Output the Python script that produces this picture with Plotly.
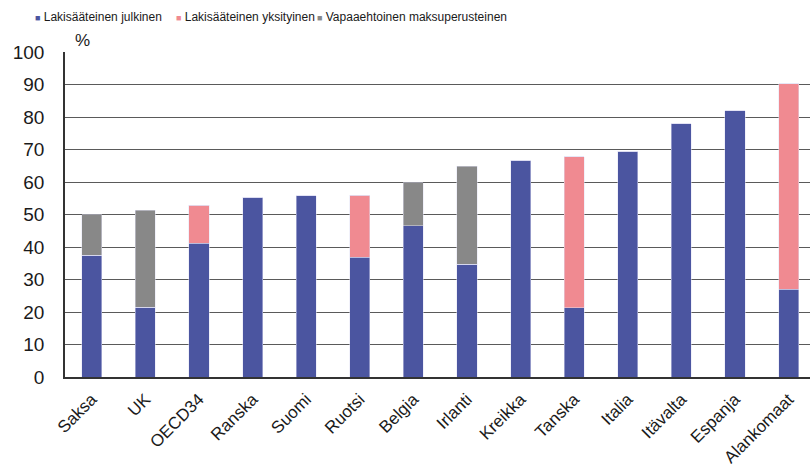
import plotly.graph_objects as go

categories = ["Saksa", "UK", "OECD34", "Ranska", "Suomi", "Ruotsi", "Belgia",
              "Irlanti", "Kreikka", "Tanska", "Italia", "Itävalta", "Espanja", "Alankomaat"]
julkinen = [37.4, 21.5, 41.2, 55.3, 55.7, 36.9, 46.6, 34.7, 66.7, 21.3, 69.5, 78.0, 82.0, 27.0]
yksityinen = [0, 0, 11.6, 0, 0, 19.0, 0, 0, 0, 46.4, 0, 0, 0, 63.3]
vapaaehtoinen = [12.6, 29.8, 0, 0, 0, 0, 13.2, 30.2, 0, 0, 0, 0, 0, 0]
y_ticks = [0, 10, 20, 30, 40, 50, 60, 70, 80, 90, 100]

names = ["Lakisääteinen julkinen", "Lakisääteinen yksityinen", "Vapaaehtoinen maksuperusteinen"]
colors = ["#4b55a0", "#f08a91", "#888888"]
series = [julkinen, yksityinen, vapaaehtoinen]

fig = go.Figure()
for name, vals, col in zip(names, series, colors):
    fig.add_trace(go.Bar(
        x=categories, y=vals, name=name, showlegend=False,
        marker=dict(color=col, line=dict(color="rgba(225,225,245,0.8)", width=0.6)),
    ))
# legend entries: coloured square glyph placed right before the label, as in the original
for name, col in zip(names, colors):
    fig.add_trace(go.Scatter(
        x=[None], y=[None], mode="markers",
        name=f"<span style='color:{col};font-size:9px'>■</span> {name}",
        marker=dict(symbol="square", size=6, color="rgba(0,0,0,0)"),
    ))
# invisible spacer entry so the last legend label is not clipped
fig.add_trace(go.Scatter(
    x=[None], y=[None], mode="markers", name=" ",
    marker=dict(symbol="square", size=6, color="rgba(0,0,0,0)"),
))

fig.update_layout(
    width=810, height=469,
    margin=dict(l=65, r=0, t=52, b=92, autoexpand=False),
    plot_bgcolor="white", paper_bgcolor="white",
    barmode="stack", bargap=0.625,
    showlegend=True,
    legend=dict(
        orientation="h", x=-0.094, xanchor="left", y=1.109, yanchor="middle",
        font=dict(family="Liberation Sans, Arial, sans-serif", size=12, color="#1a1a1a"),
        entrywidth=96, itemclick=False, tracegroupgap=0, traceorder="normal",
        bgcolor="rgba(0,0,0,0)",
    ),
    xaxis=dict(
        range=[-0.5, 13.4], tickangle=-45, showgrid=False, automargin=False,
        showline=True, linecolor="#333333", linewidth=1.5, ticklabelstandoff=4,
        ticks="", tickfont=dict(family="Liberation Sans, Arial, sans-serif", size=17, color="#1a1a1a"),
    ),
    yaxis=dict(
        range=[0, 100], tickvals=y_ticks, showgrid=True, gridcolor="#5a5a5a", gridwidth=1.3,
        showline=True, linecolor="#333333", linewidth=1.5, ticks="", ticklabelstandoff=15,
        automargin=False,
        tickfont=dict(family="Liberation Sans, Arial, sans-serif", size=19, color="#1a1a1a"),
        zeroline=False,
    ),
    annotations=[dict(
        text="%", xref="paper", yref="paper", x=0.023, y=1.0, xanchor="center", yanchor="bottom",
        yshift=0, showarrow=False,
        font=dict(family="Liberation Sans, Arial, sans-serif", size=17, color="#1a1a1a"),
    )],
)

fig.write_html("out.html", config={"displayModeBar": False},
               post_script="document.body.style.margin='0';")
